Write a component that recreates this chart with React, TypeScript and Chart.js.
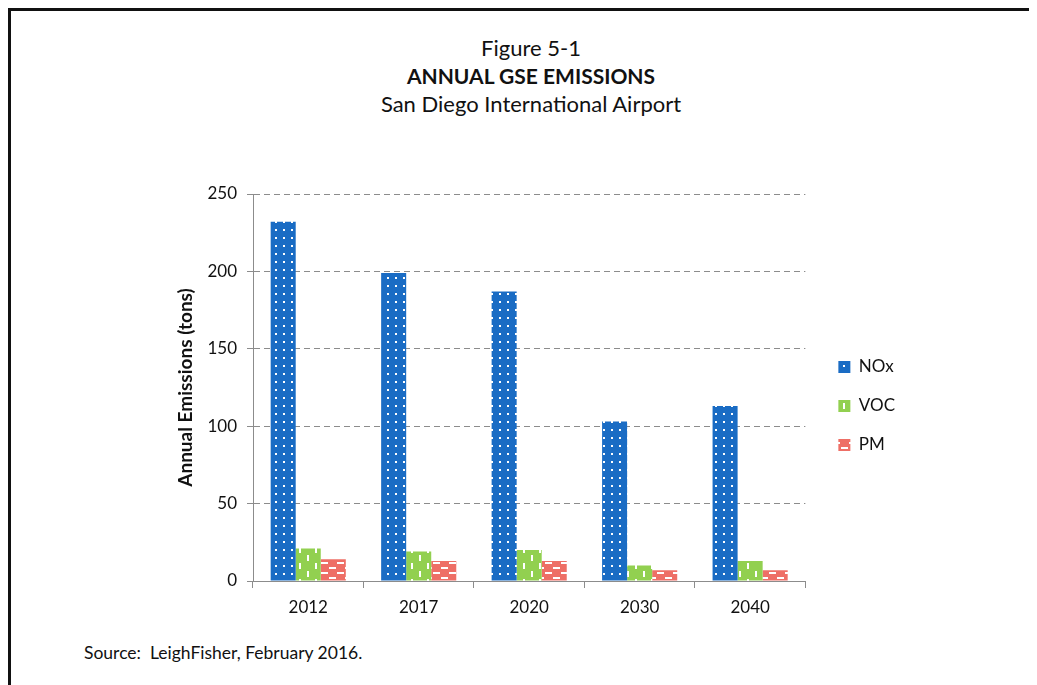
import React, { useEffect, useRef } from 'react';
import { Chart, registerables } from 'chart.js';

Chart.register(...registerables);

const categories = ['2012', '2017', '2020', '2030', '2040'];
const noxValues = [232, 199, 187, 103, 113];
const vocValues = [21, 19, 20, 10, 13];
const pmValues = [14, 13, 13, 7, 7];
const seriesNames = ['NOx', 'VOC', 'PM'];
const yMin = 0;
const yMax = 250;
const yStep = 50;

const FONT = 'Lato, "Open Sans", sans-serif';

function makePattern(bg: string, w: number, h: number, draw: (c: CanvasRenderingContext2D) => void) {
  const cv = document.createElement('canvas');
  cv.width = w;
  cv.height = h;
  const c = cv.getContext('2d')!;
  c.fillStyle = bg;
  c.fillRect(0, 0, w, h);
  c.fillStyle = '#ffffff';
  draw(c);
  const tmp = document.createElement('canvas').getContext('2d')!;
  return tmp.createPattern(cv, 'repeat')!;
}

export default function App() {
  const ref = useRef<HTMLCanvasElement | null>(null);

  useEffect(() => {
    document.body.style.overflow = 'hidden';
    const blue = makePattern('#1a6cc4', 8, 8, (c) => {
      c.fillRect(3, 3, 2, 2);
    });
    const green = makePattern('#92d050', 16, 16, (c) => {
      c.fillRect(3, 1, 2, 6);
      c.fillRect(11, 9, 2, 6);
    });
    const red = makePattern('#ee6f66', 16, 10, (c) => {
      c.fillRect(1, 2, 7, 2);
      c.fillRect(9, 7, 7, 2);
    });

    const chart = new Chart(ref.current!, {
      type: 'bar',
      data: {
        labels: categories,
        datasets: [
          { label: seriesNames[0], data: noxValues, backgroundColor: blue as any, borderWidth: 0 },
          { label: seriesNames[1], data: vocValues, backgroundColor: green as any, borderWidth: 0 },
          { label: seriesNames[2], data: pmValues, backgroundColor: red as any, borderWidth: 0 },
        ],
      },
      options: {
        animation: false,
        responsive: false,
        maintainAspectRatio: false,
        devicePixelRatio: 1,
        layout: { padding: { top: 24, left: 0, right: 0, bottom: 22 } },
        datasets: { bar: { categoryPercentage: 0.68, barPercentage: 1.0 } },
        plugins: {
          title: { display: false },
          tooltip: { enabled: false },
          legend: {
            position: 'right',
            align: 'center',
            labels: {
              boxWidth: 12,
              boxHeight: 12,
              padding: 22,
              color: '#111',
              font: { family: FONT, size: 17 },
            },
          },
        },
        scales: {
          x: {
            grid: {
              display: true,
              drawOnChartArea: false,
              drawTicks: true,
              tickLength: 7,
              offset: true,
              color: '#8c8c8c',
            },
            border: { display: true, color: '#8c8c8c', width: 1 },
            ticks: { color: '#111', padding: 9, font: { family: FONT, size: 17 } },
            afterFit: (s: any) => { s.height = 37; },
          },
          y: {
            min: yMin,
            max: yMax,
            ticks: { stepSize: yStep, color: '#111', padding: 10, font: { family: FONT, size: 17 } },
            grid: {
              color: '#8c8c8c',
              tickBorderDash: [] as any,
              tickLength: 6,
              drawTicks: true,
            } as any,
            border: { display: true, color: '#8c8c8c', width: 1, dash: [6, 4] },
            title: {
              display: true,
              text: 'Annual Emissions (tons)',
              color: '#111',
              font: { family: FONT, size: 19, weight: 'bold' },
              padding: { top: 14, bottom: 0 },
            },
            afterFit: (s: any) => { s.width = 93; },
          },
          gap: {
            type: 'linear',
            position: 'right',
            display: true,
            grid: { display: false },
            border: { display: false },
            ticks: { display: false },
            afterFit: (s: any) => { s.width = 11; },
          } as any,
        },
      },
    });
    return () => chart.destroy();
  }, []);

  return (
    <div
      style={{
        position: 'relative',
        width: 1029,
        height: 677,
        borderTop: '3px solid #111',
        borderLeft: '3px solid #111',
        boxSizing: 'border-box',
        background: '#fff',
        fontFamily: FONT,
        color: '#111',
        overflow: 'hidden',
      }}
    >
      <div style={{ position: 'absolute', left: 0, width: 1040, top: 23, textAlign: 'center', fontSize: 22, lineHeight: '28px' }}>
        <div>Figure 5-1</div>
        <div style={{ fontWeight: 'bold', fontSize: 21 }}>ANNUAL GSE EMISSIONS</div>
        <div>San Diego International Airport</div>
      </div>
      <canvas
        ref={ref}
        width={745}
        height={470}
        style={{ position: 'absolute', left: 149, top: 159, width: 745, height: 470 }}
      />
      <div style={{ position: 'absolute', left: 73, top: 631, fontSize: 17.5 }}>
        Source:&nbsp; LeighFisher, February 2016.
      </div>
    </div>
  );
}
